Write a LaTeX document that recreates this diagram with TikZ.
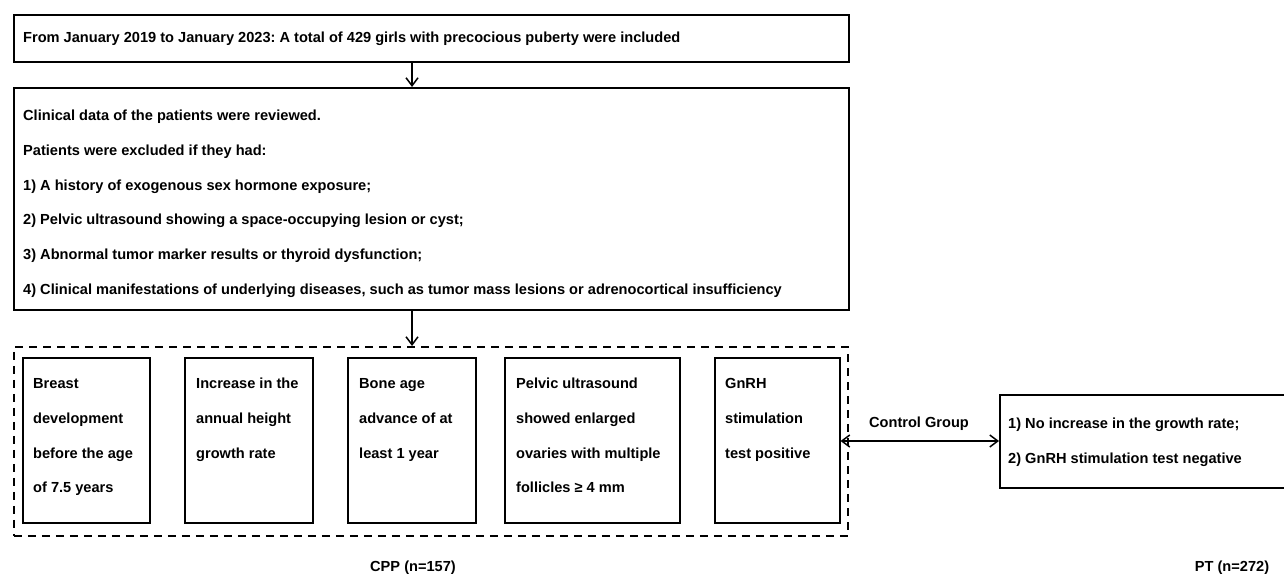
\documentclass[tikz,border=0pt]{standalone}
\usepackage{fontspec}
\setmainfont{Liberation Sans}
\usetikzlibrary{arrows.meta}
\newcommand\tstrut{\rule{0pt}{20pt}}
\frenchspacing
\begin{document}
\begin{tikzpicture}[x=1pt,y=-1pt,
  frame/.style={draw, line width=1.5pt, inner sep=0pt, anchor=north west},
  txt/.style={anchor=north west, inner sep=0pt, align=left, font=\fontsize{14.6}{34.9}\selectfont\bfseries},
  lbl/.style={anchor=base, inner sep=0pt, font=\fontsize{14.6}{17}\selectfont\bfseries},
  tip/.style={Straight Barb[length=8pt,width=12pt]},
  arr/.style={line width=1.5pt, -{Straight Barb[length=8pt,width=12pt]}},
  darr/.style={line width=1.5pt, {Straight Barb[length=8pt,width=12pt]}-{Straight Barb[length=8pt,width=12pt]}},
  grpframe/.style={draw, line width=1.5pt, dash pattern=on 8pt off 6pt, inner sep=0pt, anchor=north west}
]
\useasboundingbox (0,0) rectangle (1284,573);
\clip (0,0) rectangle (1284,573);
\fill[white] (0,0) rectangle (1284,573);

% top boxes
\node[frame, minimum width=835pt, minimum height=47pt] (top) at (13,14) {};
\node[txt] (toptxt) at (23,22.5) {\tstrut From January 2019 to January 2023: A total of 429 girls with precocious puberty were included};

\node[frame, minimum width=835pt, minimum height=222pt] (mid) at (13,87) {};
\node[txt] (midtxt) at (23,100) {\tstrut Clinical data of the patients were reviewed.\\
Patients were excluded if they had:\\
1) A history of exogenous sex hormone exposure;\\
2) Pelvic ultrasound showing a space-occupying lesion or cyst;\\
3) Abnormal tumor marker results or thyroid dysfunction;\\
4) Clinical manifestations of underlying diseases, such as tumor mass lesions or adrenocortical insufficiency};

% group
\node[grpframe, minimum width=834pt, minimum height=189pt] (grp) at (13,346) {};

\node[frame, minimum width=127pt, minimum height=165pt] (b1) at (22,357) {};
\node[frame, minimum width=128pt, minimum height=165pt] (b2) at (184,357) {};
\node[frame, minimum width=128pt, minimum height=165pt] (b3) at (347,357) {};
\node[frame, minimum width=175pt, minimum height=165pt] (b4) at (504,357) {};
\node[frame, minimum width=125pt, minimum height=165pt] (b5) at (714,357) {};

\node[txt] (t1) at (33,368) {\tstrut Breast\\development\\before the age\\of 7.5 years};
\node[txt] (t2) at (196,368) {\tstrut Increase in the\\annual height\\growth rate};
\node[txt] (t3) at (359,368) {\tstrut Bone age\\advance of at\\least 1 year};
\node[txt] (t4) at (516,368) {\tstrut Pelvic ultrasound\\showed enlarged\\ovaries with multiple\\follicles ≥ 4 mm};
\node[txt] (t5) at (725,368) {\tstrut GnRH\\stimulation\\test positive};

% right box
\node[frame, minimum width=295pt, minimum height=93pt] (pt) at (999,394) {};
\node[txt] (pttxt) at (1008,408) {\tstrut 1) No increase in the growth rate;\\2) GnRH stimulation test negative};

% labels
\node[lbl] (ctrl) at (919,427) {Control Group};
\node[lbl] (cpp) at (413,571) {CPP (n=157)};
\node[lbl] (ptl) at (1232,571) {PT (n=272)};

% connectors
\coordinate (ax) at (412,0);
\coordinate (ay) at (0,441);
\draw[arr] (top.south -| ax) -- (mid.north -| ax);
\draw[arr] (mid.south -| ax) -- (grp.north -| ax);
\draw[darr] (b5.east |- ay) -- (pt.west |- ay);
\end{tikzpicture}
\end{document}
